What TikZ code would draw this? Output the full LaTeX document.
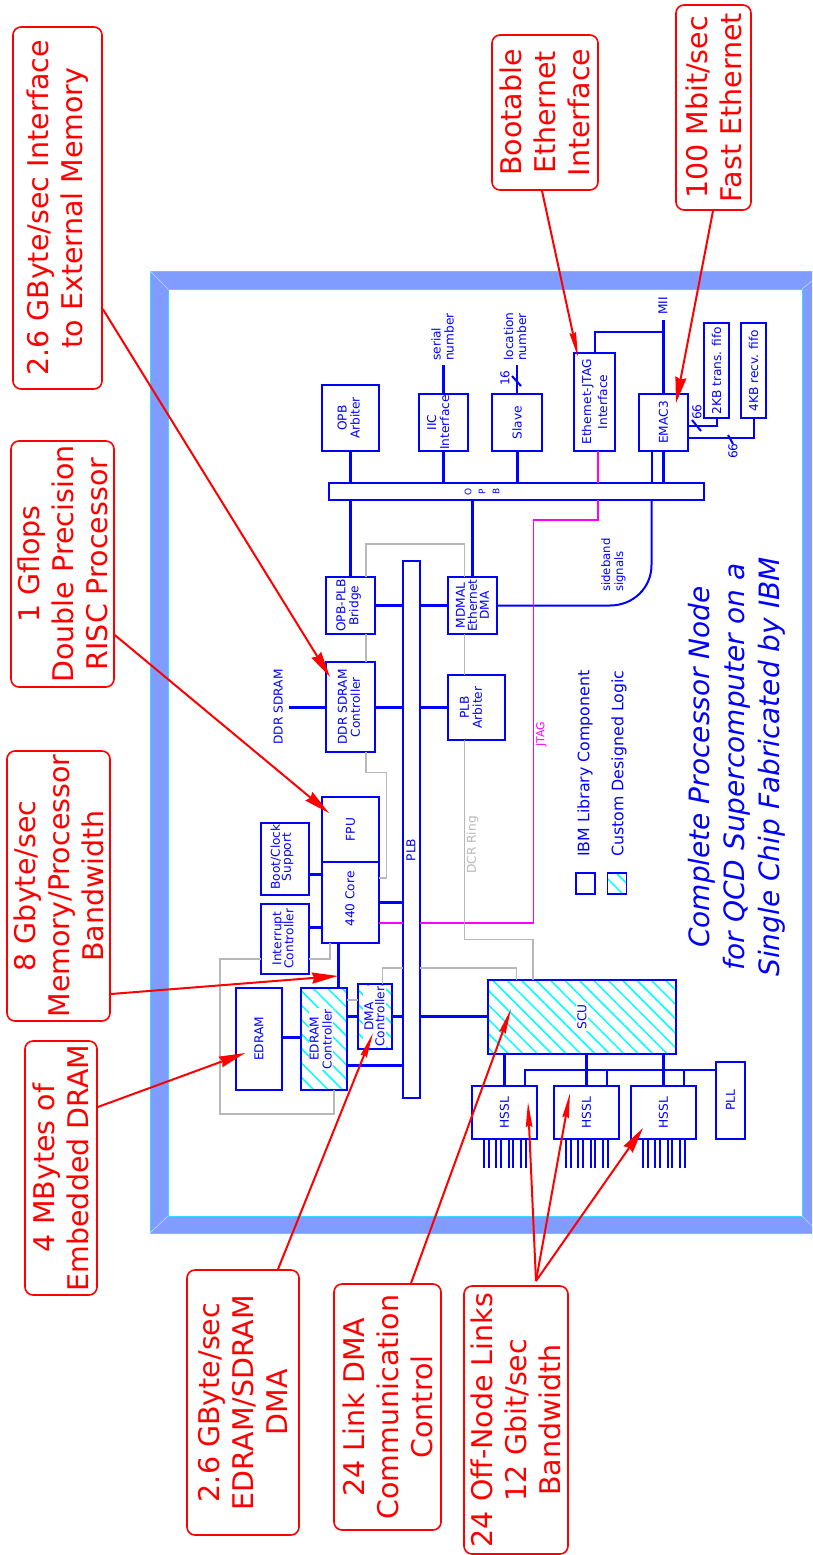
\documentclass[tikz,border=0pt]{standalone}
\usepackage{fontspec}
\setmainfont{DejaVu Sans}
\usetikzlibrary{arrows.meta,patterns.meta,calc}
\definecolor{bandblue}{HTML}{809CFF}
\definecolor{bandcyan}{HTML}{33DDFF}
\definecolor{hatchcyan}{HTML}{00FFFF}
\definecolor{dcrgray}{HTML}{B8B8B8}
\definecolor{jtagpink}{HTML}{FF00FF}
\tikzset{
  blk/.style={draw=blue, line width=1.6, text=blue, rotate=90, align=center, inner sep=0, outer sep=0,
    font=\fontsize{12.2}{13}\selectfont},
  custom/.style={blk, pattern={Lines[angle=-45,distance=10.2pt,line width=1.5pt]}, pattern color=hatchcyan},
  hatchtxt/.style={rotate=90, align=center, text=blue, fill=white, inner sep=1, font=\fontsize{12.2}{13}\selectfont},
  lbl/.style={rotate=90, align=center, text=blue, inner sep=0, font=\fontsize{12.2}{13}\selectfont},
  bus/.style={draw=blue, line width=3},
  wire/.style={draw=blue, line width=2},
  dcr/.style={draw=dcrgray, line width=1.5},
  jtag/.style={draw=jtagpink, line width=1.8},
  callout/.style={draw=red, line width=1.6, rounded corners=8, text=red, rotate=90, align=center, inner sep=0,
    font=\fontsize{28.5}{34}\selectfont},
  callarrow/.style={draw=red, line width=2, -{Stealth[length=26,width=11,inset=2]}},
  slimarrow/.style={draw=red, line width=2, -{Stealth[length=25,width=6.5,inset=2]}},
}
\begin{document}
\begin{tikzpicture}[x=1pt,y=-1pt]
\useasboundingbox (0,0) rectangle (812,1555);
% Chip frame
\fill[bandblue,even odd rule] (150,271) rectangle (812,1233) (168,289) rectangle (802,1216);
\draw[bandcyan,line width=1] (812,271) -- (150,271) -- (150,1233) -- (812,1233);
\draw[bandcyan,line width=1] (168,289) rectangle (802,1216);
\draw[white!60!bandblue,line width=0.6] (150,271) -- (168,289) (150,1233) -- (168,1216) (812,281) -- (802,289) (812,1226) -- (802,1216);
% OPB side
\node[blk,minimum width=66,minimum height=57] (opbarb) at (350.5,418) {};
\node[lbl] (opbarbtxt) at (348.7,418) {OPB\\Arbiter};
\node[blk,minimum width=57,minimum height=49] (iic) at (443.5,422.5) {};
\node[lbl] (iictxt) at (438.3,422.5) {IIC\\Interface};
\node[blk,minimum width=57,minimum height=50] (slave) at (517,422.5) {Slave};
\node[blk,minimum width=98,minimum height=41,font=\fontsize{12.2}{16}\selectfont] (ethjtag) at (594.5,402) {Ethernet-JTAG\\Interface};
\node[blk,minimum width=57,minimum height=49] (emac) at (663.5,422.5) {EMAC3};
\node[blk,minimum width=95,minimum height=25] (transfifo) at (716.5,370.5) {2KB trans. fifo};
\node[blk,minimum width=95,minimum height=25] (recvfifo) at (753.5,370.5) {4KB recv. fifo};
\node[blk,minimum width=17,minimum height=375] (opb) at (516.5,491.5) {};
\node[lbl,font=\fontsize{9}{14}\selectfont] (opbtxt) at (482,491.5) {O\\P\\B};
% PLB side
\node[blk,minimum width=537,minimum height=17] (plb) at (411.5,829.5) {};
\node[lbl] (plbtxt) at (411,850) {PLB};
\node[blk,minimum width=57,minimum height=49] (bridge) at (350.5,605.5) {};
\node[lbl] (bridgetxt) at (348.7,605.5) {OPB-PLB\\Bridge};
\node[blk,minimum width=57,minimum height=49,font=\fontsize{12.2}{12}\selectfont] (mdmal) at (472.5,605.5) {MDMAL\\Ethernet\\DMA};
\node[blk,minimum width=90,minimum height=49] (ddrctl) at (350.5,707) {};
\node[lbl] (ddrctltxt) at (349,707) {DDR SDRAM\\Controller};
\node[blk,minimum width=65,minimum height=57] (plbarb) at (476.5,707.5) {};
\node[lbl] (plbarbtxt) at (471,707.5) {PLB\\Arbiter};
\node[blk,minimum width=65,minimum height=57] (fpu) at (350.5,829.5) {FPU};
\node[blk,minimum width=81,minimum height=57] (core) at (350.5,902.5) {};
\node[lbl] (coretxt) at (350,899) {440 Core};
\node[blk,minimum width=72,minimum height=48] (boot) at (285,859) {};
\node[lbl,font=\fontsize{12.2}{11}\selectfont] (boottxt) at (282,857) {Boot/Clock\\Support};
\node[blk,minimum width=70,minimum height=48] (intctl) at (285,939) {};
\node[lbl,font=\fontsize{12.2}{12}\selectfont] (intctltxt) at (283,938.5) {Interrupt\\Controller};
\node[blk,minimum width=102,minimum height=46] (edram) at (259,1039) {EDRAM};
\node[custom,minimum width=102,minimum height=46] (edctl) at (324,1039) {};
\node[hatchtxt] (edctltxt) at (320.7,1039) {EDRAM\\Controller};
\node[custom,minimum width=65,minimum height=34] (dmactl) at (375,1016.5) {};
\node[hatchtxt,font=\fontsize{12.2}{11}\selectfont] (dmactltxt) at (374.5,1016.5) {DMA\\Controller};
\node[custom,minimum width=74,minimum height=188] (scu) at (582,1017) {};
\node[hatchtxt] (scutxt) at (582,1017) {SCU};
\node[blk,minimum width=53,minimum height=65] (hsslA) at (504.5,1112.5) {HSSL};
\node[blk,minimum width=53,minimum height=65] (hsslB) at (586.5,1112.5) {HSSL};
\node[blk,minimum width=53,minimum height=65] (hsslC) at (663.5,1112.5) {HSSL};
\node[blk,minimum width=77,minimum height=29] (pll) at (730.5,1100.5) {PLL};
% Pins of the links
\foreach \h in {hsslA,hsslB,hsslC} {
  \foreach \p in {-20.5,-16,-8.5,-3.5,4,8.5,16.5,21.5} {
    \draw[wire] ($(\h)+(\p,26.5)$) -- ($(\h)+(\p,55.5)$);
  }
}
% Free labels
\node[lbl,anchor=west,align=left] (serialtxt) at (442.5,361) {serial\\number};
\node[lbl,anchor=west,align=left] (loctxt) at (515,361) {location\\number};
\node[lbl] (sixteen) at (505,378) {16};
\node[lbl] (miitxt) at (663,306) {MII};
\node[lbl] (sixtyA) at (697,412) {66};
\node[lbl] (sixtyB) at (733,451) {66};
\node[lbl,anchor=west,align=left,font=\fontsize{11.7}{13}\selectfont] (sideband) at (613.5,592) {sideband\\signals};
\node[lbl,anchor=south] (ddrtxt) at (283,707) {DDR SDRAM};
\node[lbl,text=dcrgray] (dcrtxt) at (472.5,845) {DCR Ring};
\node[lbl,text=jtagpink,font=\fontsize{11}{13}\selectfont] (jtagtxt) at (541.5,734) {JTAG};
% Legend
\node[blk,minimum width=21,minimum height=19] (legA) at (585.5,883.5) {};
\node[custom,minimum width=21,minimum height=19] (legB) at (617,883.5) {};
\node[lbl,anchor=west,font=\fontsize{15.8}{18}\selectfont] (legAtxt) at (585,857) {IBM Library Component};
\node[lbl,anchor=west,font=\fontsize{15.8}{18}\selectfont] (legBtxt) at (619,857) {Custom Designed Logic};
% Title
\node[lbl,font=\fontsize{28}{35}\selectfont\itshape] (title) at (737,767) {Complete Processor Node\\for QCD Supercomputer on a\\Single Chip Fabricated by IBM};
% Bus connections
\draw[bus] (opbarb.west) -- (opbarb.west |- opb.east);
\draw[bus] (iic.west) -- (iic.west |- opb.east);
\draw[bus] (slave.west) -- (slave.west |- opb.east);
\draw[bus] (emac.west) -- (emac.west |- opb.east);
\draw[bus] (bridge.east) -- (bridge.east |- opb.west);
\draw[bus] (mdmal.east) -- (mdmal.east |- opb.west);
\draw[bus] (bridge.south) -- (bridge.south -| plb.north);
\draw[bus] (mdmal.north) -- (mdmal.north -| plb.south);
\draw[bus] (ddrctl.south) -- (ddrctl.south -| plb.north);
\draw[bus] (plbarb.north) -- (plbarb.north -| plb.south);
\draw[bus] (ddrctl.north) -- (ddrctl.north -| 289,0);
\draw[bus] (core.south |- 0,902) -- (plb.north |- 0,902);
\draw[bus] (boot.south |- 0,874) -- (core.north |- 0,874);
\draw[bus] (intctl.south |- 0,927) -- (core.north |- 0,927);
\draw[bus] (core.west -| 338,0) -- (edctl.east -| 338,0);
\draw[bus] (edram.south |- 0,1037) -- (edctl.north |- 0,1037);
\draw[bus] (edctl.south |- 0,1016) -- (dmactl.north |- 0,1016);
\draw[bus] (dmactl.south |- 0,1016) -- (plb.north |- 0,1016);
\draw[bus] (plb.south |- 0,1016) -- (scu.north |- 0,1016);
\draw[bus] (edctl.south |- 0,1065) -- (plb.north |- 0,1065);
\draw[bus] (scu.west -| hsslA) -- (hsslA.east);
\draw[bus] (scu.west -| hsslB) -- (hsslB.east);
\draw[bus] (scu.west -| hsslC) -- (hsslC.east);
\draw[bus] (emac.east) -- (emac.east |- 0,320);
% Thin signals
\draw[wire,line width=2.4] (iic.east) -- (iic.east |- 0,365);
\draw[wire,line width=2.4] (slave.east) -- (slave.east |- 0,365);
\draw[wire] (ethjtag.east) -- (ethjtag.east |- 0,332) -- (emac.east |- 0,332);
\draw[wire] (emac.south |- 0,426) -| (transfifo.west);
\draw[wire] (emac.south |- 0,438) -| (recvfifo.west);
\draw[wire] (emac.west -| 651.5,0) -- (opb.east -| 651.5,0);
\draw[wire] (mdmal.south) -- (610,605.5) .. controls (633,605.5) and (651.5,588) .. (651.5,565) -- (opb.west -| 651.5,0);
\draw[wire] (pll.north |- 0,1070) -| (hsslA.east -| 525,0);
\draw[wire] (hsslB.east -| 606.7,0) -- (606.7,1070);
\draw[wire] (hsslC.east -| 684,0) -- (684,1070);
% Bus width ticks
\draw[wire] (512,376) -- (521,386);
\draw[wire] (692,420) -- (701,431);
\draw[wire] (728,435) -- (733,444);
% JTAG
\draw[jtag] (ethjtag.west -| 598,0) -- (opb.east -| 598,0);
\draw[jtag] (opb.west -| 598,0) -- (598,520) -- (533.5,520) -- (533.5,923) -- (plb.south |- 0,923);
\draw[jtag] (plb.north |- 0,923) -- (core.south |- 0,923);
% DCR ring
\draw[dcr] (bridge.east -| 366,0) -- (366,544) -- (464.5,544) -- (mdmal.east -| 464.5,0);
\draw[dcr] (bridge.west -| 366,0) -- (ddrctl.east -| 366,0);
\draw[dcr] (ddrctl.west -| 366,0) -- (366,772.5) -- (386.5,772.5) -- (386.5,878) -- (core.south |- 0,878);
\draw[dcr] (mdmal.west -| 464.5,0) -- (plbarb.east -| 464.5,0);
\draw[dcr] (plbarb.west -| 464.5,0) -- (464.5,939.5) -- (533,939.5) -- (scu.east -| 533,0);
\draw[dcr] (core.west -| 330,0) -- (330,959) -- (intctl.south |- 0,959);
\draw[dcr] (intctl.north |- 0,959) -- (220,959) -- (220,1114) -- (334,1114) -- (edctl.west -| 334,0);
\draw[dcr] (edctl.south |- 0,1000) -- (dmactl.north |- 0,1000);
\draw[dcr] (dmactl.east -| 382.5,0) -- (382.5,968) -- (plb.north |- 0,968);
\draw[dcr] (plb.south |- 0,968) -- (516.5,968) -- (scu.east -| 516.5,0);
% Callouts
\node[callout,minimum width=362,minimum height=89] (ddrcall) at (57.5,208) {2.6 GByte/sec Interface\\to External Memory};
\node[callout,minimum width=246,minimum height=103] (fpucall) at (62.5,564) {1 Gflops\\Double Precision\\RISC Processor};
\node[callout,minimum width=270,minimum height=103] (bwcall) at (58.5,886) {8 Gbyte/sec\\Memory/Processor\\Bandwidth};
\node[callout,minimum width=254,minimum height=72] (edramcall) at (61,1168) {4 MBytes of\\Embedded DRAM};
\node[callout,minimum width=265,minimum height=112] (dmacall) at (243,1402.5) {2.6 GByte/sec\\EDRAM/SDRAM\\DMA};
\node[callout,minimum width=246,minimum height=107] (scucall) at (387.5,1407) {24 Link DMA\\Communication\\Control};
\node[callout,minimum width=268,minimum height=104] (linkcall) at (516,1420) {24 Off-Node Links\\12 Gbit/sec\\Bandwidth};
\node[callout,minimum width=155,minimum height=106] (jtagcall) at (545,112.5) {Bootable\\Ethernet\\Interface};
\node[callout,minimum width=205,minimum height=75] (emaccall) at (713.5,107.5) {100 Mbit/sec\\Fast Ethernet};
% Arrow ends
\coordinate (ddrtip) at (330,677);
\coordinate (fputip) at (329,813);
\coordinate (bwtip) at (338,976);
\coordinate (edramtip) at (245,1053);
\coordinate (dmatip) at (373,1033);
\coordinate (scutip) at (511,1009);
\coordinate (jtagtip) at (578,357);
\coordinate (emactip) at (676,403);
\coordinate (linkfrom) at (536,1281);
\coordinate (linktipA) at (528,1102);
\coordinate (linktipB) at (570,1093);
\coordinate (linktipC) at (643,1128);
\draw[callarrow] (ddrcall.south |- 0,309) -- (ddrtip);
\draw[callarrow] (fpucall.south |- 0,635) -- (fputip);
\draw[callarrow] (bwcall.south |- 0,994) -- (bwtip);
\draw[callarrow] (edramcall.south |- 0,1107) -- (edramtip);
\draw[slimarrow] (dmacall.east -| 278,0) -- (dmatip);
\draw[slimarrow] (scucall.east -| 411,0) -- (scutip);
\draw[slimarrow] (jtagcall.west -| 542,0) -- (jtagtip);
\draw[callarrow] (emaccall.west -| 713,0) -- (emactip);
\draw[slimarrow] (linkfrom) -- (linktipA);
\draw[slimarrow] (linkfrom) -- (linktipB);
\draw[callarrow] (linkfrom) -- (linktipC);
\end{tikzpicture}
\end{document}
